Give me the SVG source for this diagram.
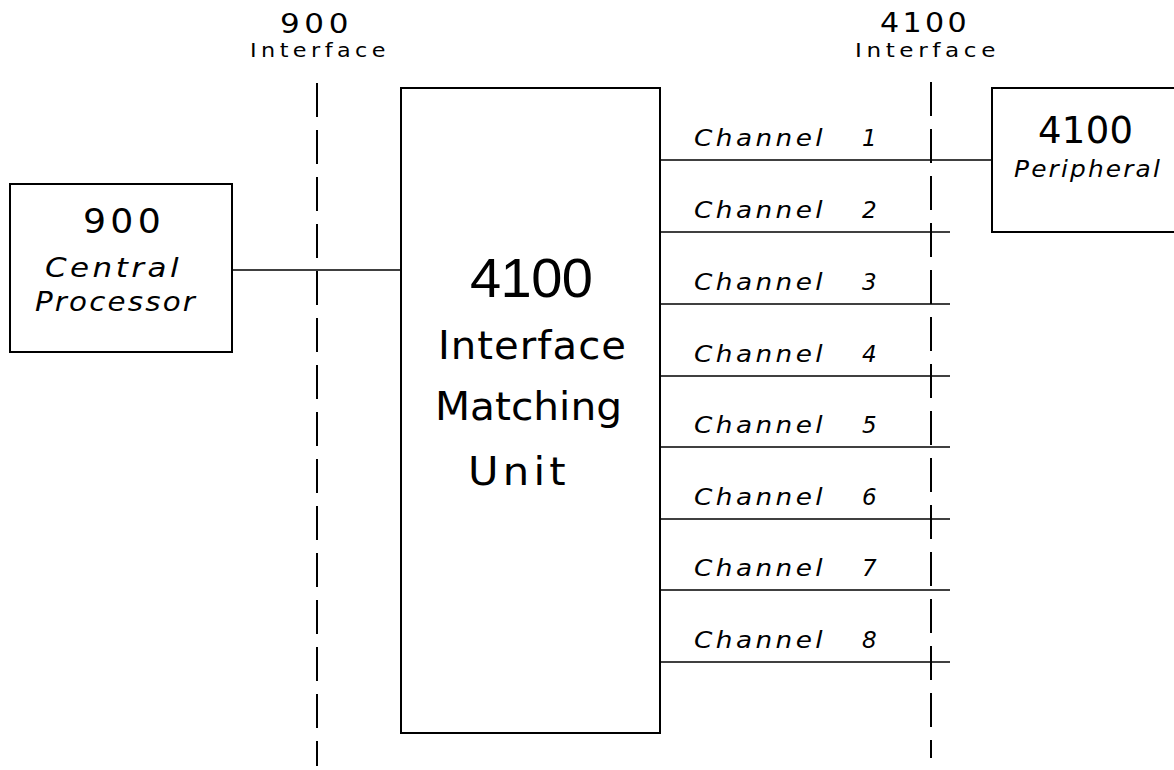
<svg xmlns="http://www.w3.org/2000/svg" width="1174" height="770" viewBox="0 0 1174 770">
<style>
  text { font-family: "DejaVu Sans", "Liberation Sans", sans-serif; fill: #000; }
  .it { font-style: italic; }
  .lib { font-family: "Liberation Sans", Arial, sans-serif; }
  .box { fill: #fff; stroke: #000; stroke-width: 2; }
  .ln { stroke: #000; stroke-width: 1.6; fill: none; }
  .dash { stroke: #000; stroke-width: 2; stroke-dasharray: 34 13; fill: none; }
  .ch { font-size: 23px; font-style: italic; letter-spacing: 3px; }
  .hd { letter-spacing: 4px; }
</style>
<rect width="1174" height="770" fill="#fff"/>

<g id="interface-900">
  <line class="dash" x1="317" y1="83" x2="317" y2="766"/>
  <text class="hd" x="280" y="33" font-size="27" textLength="73" lengthAdjust="spacingAndGlyphs">900</text>
  <text class="hd" x="250" y="57" font-size="20" textLength="140" lengthAdjust="spacingAndGlyphs">Interface</text>
</g>
<g id="interface-4100">
  <line class="dash" x1="931" y1="82" x2="931" y2="758"/>
  <text x="880" y="32" font-size="27" letter-spacing="3" textLength="90" lengthAdjust="spacingAndGlyphs">4100</text>
  <text class="hd" x="855" y="57" font-size="20" textLength="145" lengthAdjust="spacingAndGlyphs">Interface</text>
</g>

<g id="connectors">
  <line class="ln" x1="232" y1="270" x2="401" y2="270"/>
  <line class="ln" x1="660" y1="160" x2="992" y2="160"/>
  <line class="ln" x1="660" y1="232" x2="950" y2="232"/>
  <line class="ln" x1="660" y1="304" x2="950" y2="304"/>
  <line class="ln" x1="660" y1="376" x2="950" y2="376"/>
  <line class="ln" x1="660" y1="447" x2="950" y2="447"/>
  <line class="ln" x1="660" y1="519" x2="950" y2="519"/>
  <line class="ln" x1="660" y1="590" x2="950" y2="590"/>
  <line class="ln" x1="660" y1="662" x2="950" y2="662"/>
  <g class="ch">
    <text x="694" y="146" textLength="132" lengthAdjust="spacingAndGlyphs">Channel</text><text x="862" y="146">1</text>
    <text x="694" y="218" textLength="132" lengthAdjust="spacingAndGlyphs">Channel</text><text x="862" y="218">2</text>
    <text x="694" y="290" textLength="132" lengthAdjust="spacingAndGlyphs">Channel</text><text x="862" y="290">3</text>
    <text x="694" y="362" textLength="132" lengthAdjust="spacingAndGlyphs">Channel</text><text x="862" y="362">4</text>
    <text x="694" y="433" textLength="132" lengthAdjust="spacingAndGlyphs">Channel</text><text x="862" y="433">5</text>
    <text x="694" y="505" textLength="132" lengthAdjust="spacingAndGlyphs">Channel</text><text x="862" y="505">6</text>
    <text x="694" y="576" textLength="132" lengthAdjust="spacingAndGlyphs">Channel</text><text x="862" y="576">7</text>
    <text x="694" y="648" textLength="132" lengthAdjust="spacingAndGlyphs">Channel</text><text x="862" y="648">8</text>
  </g>
</g>

<g id="central-processor">
  <rect class="box" x="10" y="184" width="222" height="168"/>
  <text class="hd" x="83" y="233" font-size="34" textLength="82" lengthAdjust="spacingAndGlyphs">900</text>
  <text class="it" x="45" y="277" font-size="27" letter-spacing="3" textLength="137" lengthAdjust="spacingAndGlyphs">Central</text>
  <text class="it" x="35" y="311" font-size="27" letter-spacing="2" textLength="162" lengthAdjust="spacingAndGlyphs">Processor</text>
</g>

<g id="matching-unit">
  <rect class="box" x="401" y="88" width="259" height="645"/>
  <text class="lib" x="470" y="297" font-size="56" textLength="123" lengthAdjust="spacing">4100</text>
  <text x="438" y="359" font-size="39" letter-spacing="1" textLength="189" lengthAdjust="spacingAndGlyphs">Interface</text>
  <text x="435" y="420" font-size="39" textLength="187" lengthAdjust="spacingAndGlyphs">Matching</text>
  <text x="468" y="485" font-size="39" letter-spacing="4" textLength="102" lengthAdjust="spacingAndGlyphs">Unit</text>
</g>

<g id="peripheral">
  <rect class="box" x="992" y="88" width="200" height="144"/>
  <text x="1038" y="143" font-size="37" textLength="95" lengthAdjust="spacing">4100</text>
  <text class="it" x="1014" y="177" font-size="23" letter-spacing="2" textLength="148" lengthAdjust="spacingAndGlyphs">Peripheral</text>
</g>
</svg>
